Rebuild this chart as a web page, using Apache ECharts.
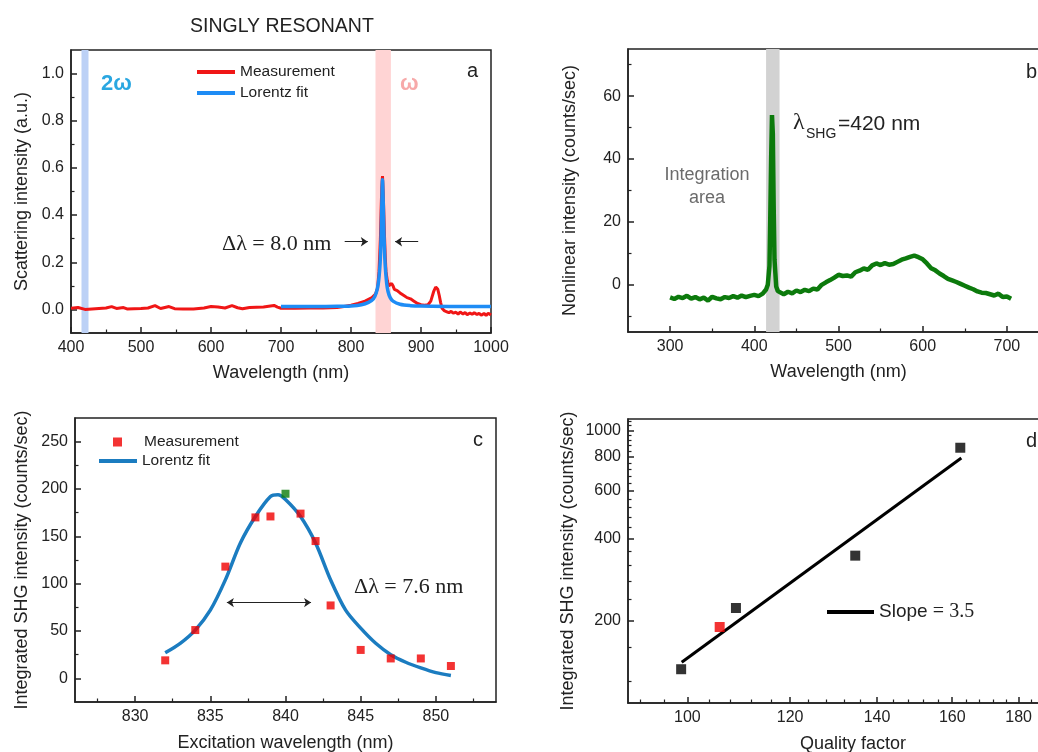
<!DOCTYPE html>
<html>
<head>
<meta charset="utf-8">
<title>Singly resonant</title>
<script src="https://cdn.jsdelivr.net/npm/echarts@6/dist/echarts.min.js"></script>
<style>
  html, body { margin: 0; padding: 0; background: #fff; }
  #chart { width: 1038px; height: 752px; }
</style>
</head>
<body>
<div id="chart"></div>
<script>
// ---- panel a: scattering spectrum ----
const aWave = [400, 410, 420, 430, 440, 450, 458, 465, 475, 480, 490, 500, 510, 520, 528, 540, 548, 560, 575, 590,
  600, 610, 620, 630, 638, 645, 655, 665, 675, 690, 695, 700, 720, 740, 760, 780, 790, 800, 810, 820,
  830, 835, 838, 840, 842, 843, 844, 845, 846, 847, 848, 849, 850, 852, 854, 856, 858, 860, 862, 866,
  870, 875, 880, 885, 890, 895, 900, 905, 910, 914, 918, 921, 924, 926, 928, 930, 933, 937, 940, 943,
  946, 950, 953, 956, 960, 963, 966, 970, 973, 976, 980, 983, 986, 990, 993, 996, 1000]
const aMeas = [0.005, 0.008, 0.0, 0.002, 0.004, 0.006, 0.012, 0.004, 0.008, 0.002, 0.003, 0.004, 0.006, 0.016, 0.004, 0.012, 0.003, 0.002, 0.002, 0.006,
  0.012, 0.01, 0.006, 0.016, 0.007, 0.003, 0.008, 0.009, 0.01, 0.017, 0.01, 0.005, 0.005, 0.006, 0.006, 0.008, 0.012, 0.018, 0.025, 0.035,
  0.05, 0.065, 0.09, 0.16, 0.3, 0.42, 0.52, 0.565, 0.5, 0.4, 0.3, 0.22, 0.16, 0.12, 0.1, 0.1, 0.11, 0.1, 0.085, 0.08,
  0.07, 0.06, 0.05, 0.045, 0.035, 0.025, 0.02, 0.018, 0.02, 0.035, 0.075, 0.095, 0.085, 0.06, 0.03, 0.005, -0.005, -0.01, -0.014, -0.008,
  -0.016, -0.012, -0.02, -0.011, -0.019, -0.013, -0.022, -0.015, -0.021, -0.014, -0.022, -0.016, -0.025, -0.017, -0.026, -0.016, -0.024]
const aFitWave = [700, 750, 780, 800, 815, 825, 832, 836, 839, 841, 842, 843, 844, 845, 846, 847, 848, 849, 851, 853, 856, 860, 870, 885, 900, 950, 1000]
const aFit = [0.012, 0.012, 0.013, 0.015, 0.02, 0.03, 0.045, 0.07, 0.11, 0.17, 0.22, 0.31, 0.44, 0.55, 0.46, 0.33, 0.24, 0.18, 0.11, 0.075, 0.05, 0.035, 0.022, 0.016, 0.014, 0.012, 0.012]
const aBands = [[415, 425], [835, 857]]          // 2ω and ω
const aArrowY = 0.287
const aArrows = [[791, 824], [896, 863]]
const aXTicks = [400, 500, 600, 700, 800, 900, 1000]
const aYTicks = [0, 0.2, 0.4, 0.6, 0.8, 1.0]

// ---- panel b: nonlinear spectrum ----
const bWave = [300, 305, 310, 315, 320, 325, 330, 335, 340, 345, 350, 355, 360, 365, 370, 375, 380, 385, 390, 395,
  400, 405, 410, 414, 416, 418, 419, 420, 421, 422, 423, 424, 426, 428, 430, 435, 440, 445, 450, 455,
  460, 465, 470, 475, 480, 485, 490, 495, 500, 505, 510, 515, 520, 525, 530, 535, 540, 545, 550, 555,
  560, 565, 570, 575, 580, 585, 590, 595, 600, 605, 610, 615, 620, 625, 630, 635, 640, 645, 650, 655,
  660, 665, 670, 675, 680, 685, 690, 695, 700, 705]
const bSignal = [-4, -4.5, -3.8, -4.2, -3.5, -4.4, -3.9, -4.6, -4.1, -5, -3.8, -4.3, -4.6, -3.9, -4.2, -3.6, -4.1, -3.4, -3.9, -3.5,
  -3.2, -3.6, -2.8, -1.5, 0, 6, 22, 40, 54, 48, 25, 8, -0.5, -2, -2.5, -3, -2.2, -2.7, -1.8, -2.3,
  -1.6, -2, -1.2, -1.5, 0, 0.8, 1.5, 2.3, 3.2, 2.8, 3, 2.6, 4, 4.5, 5.2, 4.8, 6.2, 6.8, 6.3, 6.9,
  6.4, 6.6, 7.3, 8, 8.4, 8.9, 9.3, 8.8, 8.1, 6.8, 5.3, 4.6, 3.6, 2.8, 1.9, 1.4, 0.9, 0.3, -0.3, -0.9,
  -1.4, -2.1, -2.5, -2.6, -3, -3.4, -2.8, -3.9, -3.7, -4.4]
const bBand = [414, 430]
const bXTicks = [300, 400, 500, 600, 700]
const bYTicks = [0, 20, 40, 60]

// ---- panel c: integrated SHG vs excitation ----
const cWave = [832, 834, 836, 838, 839, 840, 841, 842, 843, 845, 847, 849, 851]
const cShg = [19, 51, 118, 170, 171, 195, 174, 145, 77, 30, 21, 21, 13]
const cHighlight = 840
const cFitWave = [832, 833, 834, 835, 836, 837, 838, 839, 839.5, 840, 841, 842, 843, 844, 845, 846, 847, 848, 849, 850, 851]
const cFit = [27, 37, 51, 72, 104, 143, 171, 192, 194, 189, 171, 143, 104, 72, 53, 37, 25, 17, 11, 6, 3]
const cArrow = [[836.1, 80], [841.7, 80]]
const cXTicks = [830, 835, 840, 845, 850]
const cYTicks = [0, 50, 100, 150, 200, 250]

// ---- panel d: SHG vs quality factor (log-log) ----
const dQ = [98.9, 105.9, 109, 134.7, 162.3]
const dShg = [133, 190, 223, 347, 863]
const dHighlight = 1
const dFitQ = [99, 162.6]
const dFit = [141, 791]
const dXTicks = [100, 120, 140, 160, 180]
const dYTicks = [200, 400, 600, 800, 1000]

const SANS = '"Liberation Sans", Arial, sans-serif'
const SERIF = '"Liberation Serif", "Times New Roman", serif'
const INK = '#222'

const pairs = (xs, ys) => xs.map((x, i) => [x, ys[i]])
const minorOf = (from, to, step, major) => {
  const out = []
  for (let v = from; v <= to + 1e-9; v += step) {
    const r = Math.round(v * 1000) / 1000
    if (!major.some(m => Math.abs(m - r) < 1e-6)) out.push(r)
  }
  return out
}

// main axis (line, labels, long ticks) + overlay axis carrying the short ticks
function axes(dim, grid, type, min, max, major, minor, name, nameGap, fmt) {
  const position = dim === 'x' ? 'bottom' : 'left'
  const main = {
    type, gridIndex: grid, min, max, position, offset: 0,
    name, nameLocation: 'middle', nameGap,
    nameTextStyle: { fontSize: 18, color: INK, fontFamily: SANS },
    axisLine: { show: true, onZero: false, lineStyle: { color: INK, width: 1.5 } },
    axisTick: { show: true, inside: true, length: 6, customValues: major, lineStyle: { color: INK, width: 1.5 } },
    axisLabel: { customValues: major, fontSize: 16, color: INK, fontFamily: SANS, margin: 7, formatter: fmt || (v => String(Math.round(v))) },
    splitLine: { show: false }
  }
  const sub = {
    type, gridIndex: grid, min, max, position, offset: 0,
    axisLine: { show: false, onZero: false },
    axisTick: { show: true, inside: true, length: 3.5, customValues: minor, lineStyle: { color: INK, width: 1.2 } },
    axisLabel: { show: false },
    splitLine: { show: false }
  }
  return [main, sub]
}

const grid = (left, top, width, height) => ({
  left, top, width, height, show: true, borderColor: INK, borderWidth: 1.5,
  backgroundColor: 'transparent', containLabel: false, outerBoundsMode: 'none'
})

const legendNames = {
  'a:Measurement': 'Measurement', 'a:Lorentz fit': 'Lorentz fit',
  'c:Measurement': 'Measurement', 'c:Lorentz fit': 'Lorentz fit',
  'd:fit': '{s|Slope }{n|= 3.5}'
}
const legendBase = {
  orient: 'vertical', padding: 0, icon: 'rect', selectedMode: false,
  formatter: n => legendNames[n],
  textStyle: { fontSize: 15.5, color: INK, fontFamily: SANS }
}

const text = (x, y, str, style) => ({
  type: 'text', x, y, silent: true,
  style: Object.assign({ text: str, fill: INK, fontFamily: SANS, fontSize: 20, verticalAlign: 'middle' }, style)
})

const myChart = echarts.init(document.getElementById('chart'))

const option = {
  animation: false,
  textStyle: { fontFamily: SANS },
  title: {
    text: 'SINGLY RESONANT', left: 185, top: 12,
    textStyle: { fontSize: 19.5, fontWeight: 'normal', color: INK, fontFamily: SANS }
  },
  grid: [
    grid(71, 50, 420, 283),
    grid(628, 49, 421, 283),
    grid(75, 418, 421, 284),
    grid(628, 419, 450, 284)
  ],
  xAxis: [
    ...axes('x', 0, 'value', 400, 1000, aXTicks, minorOf(450, 950, 100, aXTicks), 'Wavelength (nm)', 31),
    ...axes('x', 1, 'value', 250, 750, bXTicks, minorOf(350, 750, 100, bXTicks), 'Wavelength (nm)', 31),
    ...axes('x', 2, 'value', 826, 854, cXTicks, minorOf(827.5, 852.5, 5, cXTicks), 'Excitation wavelength (nm)', 32),
    ...axes('x', 3, 'log', 90, 200, dXTicks, minorOf(92, 196, 4, dXTicks), 'Quality factor', 32)
  ],
  yAxis: [
    ...axes('y', 0, 'value', -0.1, 1.1, aYTicks, minorOf(0.1, 0.9, 0.2, aYTicks), 'Scattering intensity (a.u.)', 40, v => v.toFixed(1)),
    ...axes('y', 1, 'value', -15, 75, bYTicks, minorOf(-10, 70, 20, bYTicks), 'Nonlinear intensity (counts/sec)', 49),
    ...axes('y', 2, 'value', -25, 275, cYTicks, minorOf(25, 225, 50, cYTicks), 'Integrated SHG intensity (counts/sec)', 44),
    ...axes('y', 3, 'log', 100, 1100, dYTicks, minorOf(120, 1080, 40, dYTicks), 'Integrated SHG intensity (counts/sec)', 51)
  ],
  legend: [
    Object.assign({}, legendBase, { left: 197, top: 64, itemGap: 5, itemWidth: 38, itemHeight: 4, data: ['a:Measurement', 'a:Lorentz fit'] }),
    Object.assign({}, legendBase, { left: 113, top: 434, itemWidth: 9, itemHeight: 9, data: ['c:Measurement'],
      textStyle: Object.assign({}, legendBase.textStyle, { padding: [0, 0, 0, 17] }) }),
    Object.assign({}, legendBase, { left: 99, top: 453, itemWidth: 38, itemHeight: 4, data: ['c:Lorentz fit'] }),
    Object.assign({}, legendBase, { left: 827, top: 602, itemWidth: 47, itemHeight: 4, data: ['d:fit'],
      textStyle: { color: INK, rich: {
        s: { fontSize: 19, fontFamily: SANS, color: INK },
        n: { fontSize: 20, fontFamily: SERIF, color: INK }
      } } })
  ],
  series: [
    {
      name: 'a:Measurement', type: 'line', xAxisIndex: 0, yAxisIndex: 0,
      data: pairs(aWave, aMeas), symbol: 'none', color: '#f01616',
      lineStyle: { color: '#f01616', width: 3 },
      markArea: {
        silent: true,
        data: [
          [{ xAxis: aBands[0][0], itemStyle: { color: '#bcd1f6' } }, { xAxis: aBands[0][1] }],
          [{ xAxis: aBands[1][0], itemStyle: { color: '#ffd4d4' } }, { xAxis: aBands[1][1] }]
        ]
      },
      markLine: {
        silent: true, symbol: ['none', 'arrow'], symbolSize: 7,
        lineStyle: { color: INK, width: 1, type: 'solid' }, label: { show: false },
        data: aArrows.map(a => [{ coord: [a[0], aArrowY] }, { coord: [a[1], aArrowY] }])
      }
    },
    {
      name: 'a:Lorentz fit', type: 'line', xAxisIndex: 0, yAxisIndex: 0,
      data: pairs(aFitWave, aFit), symbol: 'none', smooth: 0.3, color: '#1e8cf5',
      lineStyle: { color: '#1e8cf5', width: 3.5 }
    },
    {
      name: 'b:Signal', type: 'line', xAxisIndex: 2, yAxisIndex: 2,
      data: pairs(bWave, bSignal), symbol: 'none', color: '#0c7a0c',
      lineStyle: { color: '#0c7a0c', width: 4.5 },
      markArea: {
        silent: true, itemStyle: { color: '#d2d2d2' },
        data: [[{ xAxis: bBand[0] }, { xAxis: bBand[1] }]]
      }
    },
    {
      name: 'c:Lorentz fit', type: 'line', xAxisIndex: 4, yAxisIndex: 4,
      data: pairs(cFitWave, cFit), symbol: 'none', smooth: 0.3, color: '#1b7cc0',
      lineStyle: { color: '#1b7cc0', width: 3.5 },
      markLine: {
        silent: true, symbol: ['arrow', 'arrow'], symbolSize: 7,
        lineStyle: { color: INK, width: 1, type: 'solid' }, label: { show: false },
        data: [[{ coord: cArrow[0] }, { coord: cArrow[1] }]]
      }
    },
    {
      name: 'c:Measurement', type: 'scatter', xAxisIndex: 4, yAxisIndex: 4, z: 3,
      symbol: 'rect', symbolSize: 8, color: '#f00000',
      data: cWave.map((w, i) => ({
        value: [w, cShg[i]],
        itemStyle: { color: w === cHighlight ? '#0b7d0b' : '#f00000' }
      }))
    },
    {
      name: 'd:fit', type: 'line', xAxisIndex: 6, yAxisIndex: 6,
      data: pairs(dFitQ, dFit), symbol: 'none', color: '#000',
      lineStyle: { color: '#000', width: 3 }
    },
    {
      name: 'd:Measurement', type: 'scatter', xAxisIndex: 6, yAxisIndex: 6, z: 3,
      symbol: 'rect', symbolSize: 10,
      data: dQ.map((q, i) => ({
        value: [q, dShg[i]],
        itemStyle: { color: i === dHighlight ? '#f00000' : '#000' }
      }))
    }
  ],
  graphic: [
    text(101, 84, '2ω', { fontSize: 22, fontWeight: 'bold', fill: '#2aa7e1' }),
    text(400, 84, 'ω', { fontSize: 22, fontWeight: 'bold', fill: '#f7a9a9' }),
    text(467, 71, 'a'),
    text(222, 244, 'Δλ = 8.0 nm', { fontFamily: SERIF, fontSize: 22 }),
    text(793, 123, 'λ', { fontFamily: SERIF, fontSize: 24 }),
    text(806, 134, 'SHG', { fontSize: 14 }),
    text(838, 124, '=420 nm', { fontSize: 21 }),
    text(707, 175, 'Integration', { fontSize: 18, fill: '#6b6b6b', align: 'center' }),
    text(707, 198, 'area', { fontSize: 18, fill: '#6b6b6b', align: 'center' }),
    text(1026, 72, 'b'),
    text(473, 440, 'c'),
    text(354, 587, 'Δλ = 7.6 nm', { fontFamily: SERIF, fontSize: 22 }),
    text(1026, 441, 'd')
  ]
}

myChart.setOption(option)
</script>
</body>
</html>
